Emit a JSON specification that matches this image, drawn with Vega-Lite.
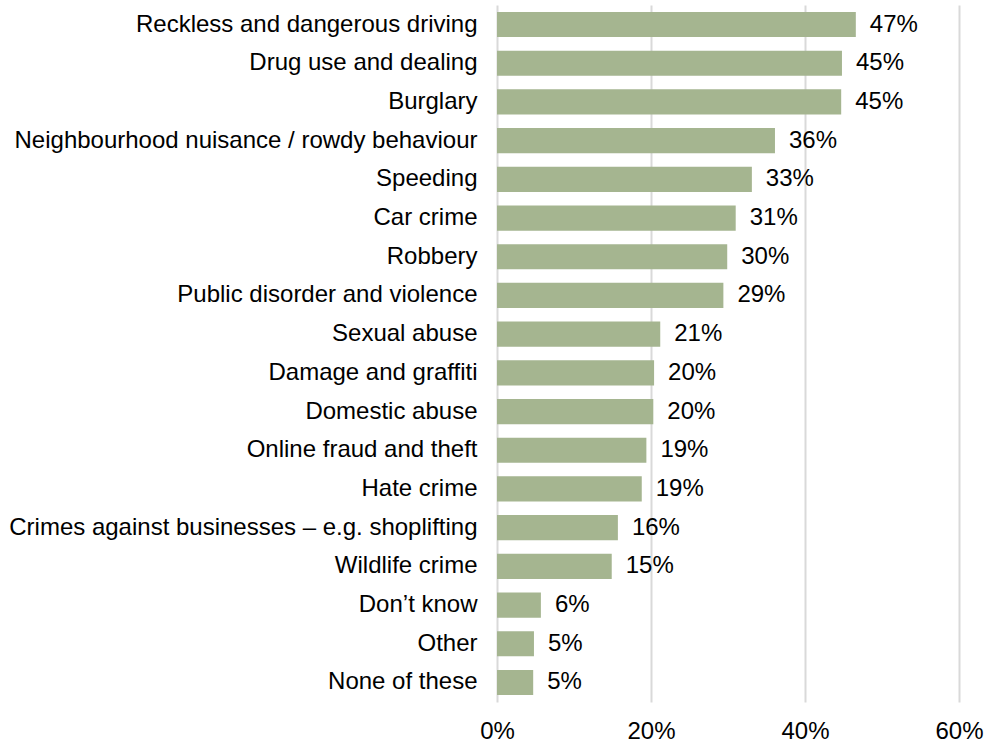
{
  "$schema": "https://vega.github.io/schema/vega-lite/v6.json",
  "autosize": "none",
  "padding": {"left": 497, "top": 5, "right": 26, "bottom": 40},
  "width": 462,
  "height": 697,
  "background": "white",
  "config": {"view": {"stroke": null}, "font": "Liberation Sans"},
  "data": {"values": [
    {"category": "Reckless and dangerous driving", "value": 46.6, "label": "47%"},
    {"category": "Drug use and dealing", "value": 44.8, "label": "45%"},
    {"category": "Burglary", "value": 44.7, "label": "45%"},
    {"category": "Neighbourhood nuisance / rowdy behaviour", "value": 36.1, "label": "36%"},
    {"category": "Speeding", "value": 33.1, "label": "33%"},
    {"category": "Car crime", "value": 31.0, "label": "31%"},
    {"category": "Robbery", "value": 29.9, "label": "30%"},
    {"category": "Public disorder and violence", "value": 29.4, "label": "29%"},
    {"category": "Sexual abuse", "value": 21.2, "label": "21%"},
    {"category": "Damage and graffiti", "value": 20.4, "label": "20%"},
    {"category": "Domestic abuse", "value": 20.3, "label": "20%"},
    {"category": "Online fraud and theft", "value": 19.4, "label": "19%"},
    {"category": "Hate crime", "value": 18.8, "label": "19%"},
    {"category": "Crimes against businesses – e.g. shoplifting", "value": 15.7, "label": "16%"},
    {"category": "Wildlife crime", "value": 14.9, "label": "15%"},
    {"category": "Don’t know", "value": 5.7, "label": "6%"},
    {"category": "Other", "value": 4.8, "label": "5%"},
    {"category": "None of these", "value": 4.7, "label": "5%"}
  ]},
  "encoding": {
    "y": {"field": "category", "type": "nominal", "sort": null,
      "scale": {"paddingInner": 0.35, "paddingOuter": 0.18},
      "axis": {"title": null, "ticks": false, "domain": false, "labelFontSize": 24, "labelColor": "#000000", "labelPadding": 20, "labelLimit": 600}},
    "x": {"field": "value", "type": "quantitative",
      "scale": {"domain": [0, 60], "nice": false},
      "axis": {"title": null, "values": [0, 20, 40, 60], "labelExpr": "datum.value + '%'", "ticks": false, "domain": false, "grid": true, "gridColor": "#d9d9d9", "gridWidth": 2, "labelFontSize": 24, "labelColor": "#000000", "labelPadding": 17, "labelFlush": false}}
  },
  "layer": [
    {"mark": {"type": "bar", "color": "#a5b590"}},
    {"mark": {"type": "text", "align": "left", "dx": 14, "fontSize": 24, "color": "#000000"},
     "encoding": {"text": {"field": "label"}}}
  ]
}
